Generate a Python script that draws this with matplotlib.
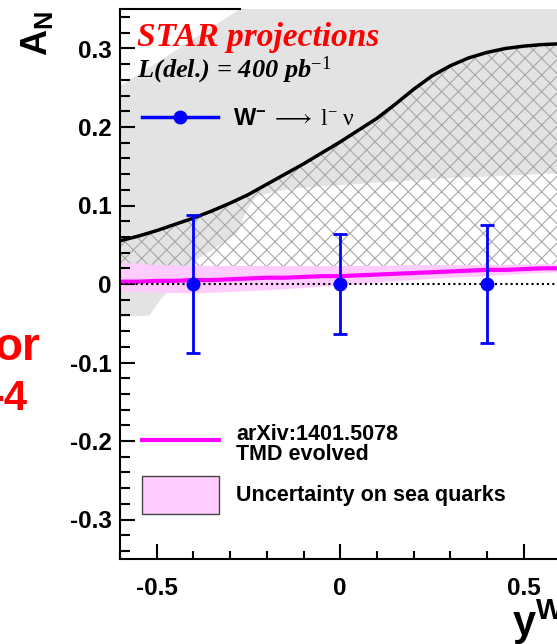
import numpy as np
import matplotlib
matplotlib.use('Agg')
import matplotlib.pyplot as plt
from matplotlib.lines import Line2D
from matplotlib.patches import Patch
from matplotlib.ticker import MultipleLocator, FuncFormatter
from matplotlib.font_manager import FontProperties

plt.rcParams['font.family'] = ['Liberation Sans', 'DejaVu Sans']
plt.rcParams['axes.unicode_minus'] = False
plt.rcParams['mathtext.fontset'] = 'custom'
plt.rcParams['mathtext.rm'] = 'Liberation Serif'
plt.rcParams['mathtext.it'] = 'Liberation Serif:italic:bold'
plt.rcParams['mathtext.bf'] = 'Liberation Sans:bold'
plt.rcParams['mathtext.fallback'] = 'stix'
plt.rcParams['hatch.color'] = '#a8a8a8'
plt.rcParams['hatch.linewidth'] = 0.8

# projected W- -> l- nu points (STAR, 400 pb^-1)
y_pts = [-0.4, 0.0, 0.4]
an_pts = [0.0, 0.0, 0.0]
an_err = [0.088, 0.064, 0.075]

# black prediction curve
x_curve = [-0.6, -0.55, -0.5, -0.45, -0.4, -0.35, -0.3, -0.25, -0.2, -0.15, -0.1, -0.05,
           0.0, 0.05, 0.1, 0.15, 0.2, 0.25, 0.3, 0.35, 0.4, 0.45, 0.5, 0.55, 0.6]
an_curve = [0.055, 0.061, 0.068, 0.076, 0.084, 0.093, 0.103, 0.114, 0.127, 0.140, 0.153, 0.167,
            0.181, 0.196, 0.211, 0.229, 0.248, 0.265, 0.278, 0.288, 0.295, 0.300, 0.303, 0.305, 0.306]
# TMD evolved (arXiv:1401.5078), same x grid
an_tmd = [0.003, 0.003, 0.004, 0.004, 0.005, 0.005, 0.006, 0.007, 0.008, 0.008, 0.009, 0.010,
          0.010, 0.011, 0.012, 0.013, 0.014, 0.015, 0.016, 0.017, 0.018, 0.018, 0.019, 0.020, 0.020]

# uncertainty on sea quarks
x_sea = [-0.6, -0.55, -0.5, -0.4, -0.3, -0.2, -0.1, 0.0, 0.1, 0.2, 0.3, 0.4, 0.5, 0.6]
sea_hi = [0.027, 0.026, 0.024, 0.023, 0.023, 0.023, 0.023, 0.023, 0.023, 0.024, 0.024, 0.024, 0.025, 0.025]
sea_lo = [-0.009, -0.010, -0.011, -0.012, -0.010, -0.008, -0.005, -0.002, 0.002, 0.005, 0.008, 0.010, 0.013, 0.015]

# gray band
x_gray = [-0.6, -0.52, -0.49, -0.45, -0.39, -0.35, -0.28, -0.255, -0.23, -0.185, -0.12,
          0.0, 0.1, 0.2, 0.3, 0.4, 0.5, 0.6]
gray_lo = [-0.042, -0.040, -0.020, 0.0, 0.031, 0.043, 0.065, 0.094, 0.111, 0.117, 0.122,
           0.126, 0.129, 0.132, 0.135, 0.137, 0.139, 0.141]
gray_hi = [0.252, 0.276, 0.285, 0.297, 0.315, 0.327, 0.348, 0.355, 0.363, 0.375, 0.39,
           0.40, 0.40, 0.40, 0.40, 0.40, 0.40, 0.40]

fig = plt.figure(figsize=(5.57, 6.44), dpi=100)
ax = fig.add_axes([120 / 557, 85.25 / 644, 440.4 / 557, 549.5 / 644])

ax.fill_between(x_gray, gray_lo, gray_hi, facecolor='#e3e3e3', lw=0, zorder=1)
ax.fill_between(x_curve, an_tmd, an_curve, facecolor='none', edgecolor='#a8a8a8',
                hatch='xx', lw=0, zorder=1.2)
ax.fill_between(x_sea, sea_lo, sea_hi, facecolor='#ffccff', lw=0, zorder=1.4)
ax.plot(x_curve, an_tmd, color='magenta', lw=3, zorder=2)
ax.axhline(0, color='black', lw=1.5, ls=(0, (1, 1.5)), zorder=2.1)
ax.plot(x_curve, an_curve, color='black', lw=2.5, zorder=2.2)
ax.errorbar(y_pts, an_pts, yerr=an_err, fmt='o', color='blue', ms=9, elinewidth=2,
            capsize=5, capthick=2, zorder=3)

ax.set_xlim(-0.6, 0.6)
ax.set_ylim(-0.35, 0.35)
ax.xaxis.set_major_locator(MultipleLocator(0.5))
ax.xaxis.set_minor_locator(MultipleLocator(0.1))
ax.yaxis.set_major_locator(MultipleLocator(0.1))
ax.yaxis.set_minor_locator(MultipleLocator(0.02))
fmt = FuncFormatter(lambda v, p: '%g' % (round(v, 3) + 0.0))
ax.xaxis.set_major_formatter(fmt)
ax.yaxis.set_major_formatter(fmt)
ax.tick_params(which='both', direction='in', top=False, right=False, width=1.5)
ax.tick_params(axis='y', which='major', length=11, pad=6)
ax.tick_params(axis='y', which='minor', length=7)
ax.tick_params(axis='x', which='major', length=11, pad=13)
ax.tick_params(axis='x', which='minor', length=6)
for lab in ax.get_xticklabels() + ax.get_yticklabels():
    lab.set_fontsize(17.5)
    lab.set_fontweight('bold')
for s in ax.spines.values():
    s.set_linewidth(1.5)
# top frame is hidden where the gray band reaches the top
ax.spines['top'].set_bounds(-0.6, np.interp(0.35, gray_hi[:10], x_gray[:10]))

serif_bi = dict(family='Liberation Serif', weight='bold', style='italic')
ax.text(0.039, 0.949, 'STAR projections', color='red', fontsize=24, va='center',
        transform=ax.transAxes, **serif_bi)
ax.text(0.039, 0.889, 'L(del.) = 400 pb$^{-1}$', color='black', fontsize=19,
        va='center', transform=ax.transAxes, **serif_bi)

h1 = Line2D([], [], color='blue', lw=2.5, marker='o', ms=9)
leg1 = ax.legend([h1], [r'$\mathbf{W}^{\mathbf{-}}\;\longrightarrow\;\mathrm{l}^{-}\;\mathrm{\nu}$'],
                 loc='center left', bbox_to_anchor=(0.05, 0.8003), frameon=False,
                 prop=FontProperties(family='Liberation Sans', weight='bold', size=17),
                 handlelength=3.22, handletextpad=0.64, borderpad=0, borderaxespad=0)
ax.add_artist(leg1)
h2 = Line2D([], [], color='magenta', lw=3)
h3 = Patch(facecolor='#ffccff', edgecolor='#444444', lw=1)
leg2 = ax.legend([h2, h3], ['arXiv:1401.5078\nTMD evolved', 'Uncertainty on sea quarks'],
                 loc='center left', bbox_to_anchor=(0.05, 0.1636), frameon=False,
                 prop=FontProperties(family='Liberation Sans', weight='bold', size=15.5),
                 handlelength=3.58, handleheight=2.34, handletextpad=0.8, labelspacing=0.5,
                 borderpad=0, borderaxespad=0)
for t in leg2.get_texts():
    t.set_linespacing(0.95)

fig.text(37 / 557, 1 - 33 / 644, r'$\mathbf{A_N}$', rotation=90, fontsize=26,
         ha='center', va='center')
fig.text(512 / 557, 8 / 644, r'$\mathbf{y^{W}}$', fontsize=30, ha='left', va='baseline')
fig.text(40 / 557, 1 - 360 / 644, 'or', color='red', fontsize=33, fontweight='bold',
         ha='right', va='baseline')
fig.text(27 / 557, 1 - 410 / 644, '-4', color='red', fontsize=30, fontweight='bold',
         ha='right', va='baseline')

fig.savefig('out.png', dpi=100)
